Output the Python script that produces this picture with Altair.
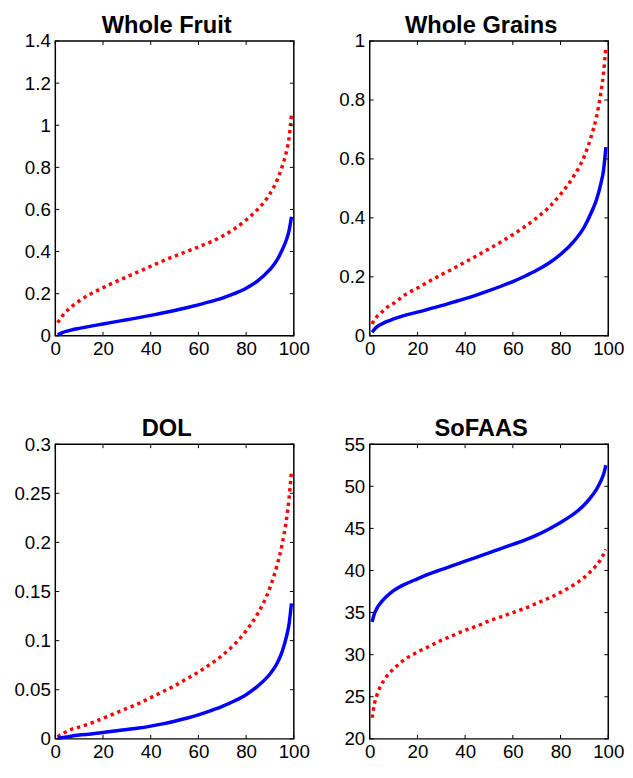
import altair as alt
import pandas as pd

pct = [1, 2, 3, 5, 7, 10, 15, 20, 25, 30, 35, 40, 45, 50, 55, 60, 65, 70, 75, 80, 85, 90, 93, 95, 97, 98, 99]

fruit_blue = [0.004, 0.01, 0.015, 0.022, 0.028, 0.035, 0.046, 0.056, 0.066, 0.076, 0.086, 0.097, 0.108, 0.12, 0.133, 0.147, 0.162, 0.179, 0.2, 0.226, 0.262, 0.315, 0.36, 0.405, 0.46, 0.5, 0.565]
fruit_red = [0.062, 0.08, 0.095, 0.12, 0.14, 0.165, 0.2, 0.228, 0.255, 0.28, 0.305, 0.33, 0.355, 0.378, 0.4, 0.422, 0.445, 0.473, 0.507, 0.55, 0.603, 0.675, 0.74, 0.8, 0.88, 0.94, 1.05]

grains_blue = [0.012, 0.022, 0.03, 0.04, 0.048, 0.057, 0.07, 0.08, 0.091, 0.102, 0.114, 0.126, 0.139, 0.153, 0.168, 0.184, 0.202, 0.222, 0.246, 0.276, 0.315, 0.37, 0.42, 0.46, 0.52, 0.56, 0.64]
grains_red = [0.04, 0.055, 0.065, 0.08, 0.095, 0.11, 0.14, 0.162, 0.185, 0.207, 0.228, 0.25, 0.272, 0.295, 0.318, 0.343, 0.37, 0.4, 0.435, 0.48, 0.535, 0.61, 0.68, 0.74, 0.83, 0.89, 0.98]

dol_blue = [0.0005, 0.001, 0.0015, 0.002, 0.003, 0.004, 0.005, 0.0065, 0.008, 0.0095, 0.011, 0.013, 0.0153, 0.018, 0.021, 0.0245, 0.0285, 0.033, 0.0385, 0.045, 0.054, 0.066, 0.077, 0.088, 0.105, 0.117, 0.138]
dol_red = [0.002, 0.004, 0.005, 0.008, 0.01, 0.012, 0.016, 0.021, 0.026, 0.031, 0.036, 0.042, 0.048, 0.054, 0.061, 0.068, 0.076, 0.085, 0.096, 0.11, 0.128, 0.154, 0.177, 0.197, 0.225, 0.245, 0.272]

sofaas_blue = [33.9, 34.9, 35.5, 36.3, 36.9, 37.6, 38.4, 39.0, 39.6, 40.1, 40.6, 41.1, 41.6, 42.1, 42.6, 43.1, 43.6, 44.2, 44.9, 45.7, 46.6, 47.8, 48.8, 49.6, 50.7, 51.4, 52.5]
sofaas_red = [22.5, 24.2, 25.2, 26.5, 27.4, 28.3, 29.5, 30.3, 31.0, 31.7, 32.3, 32.9, 33.4, 34.0, 34.5, 35.0, 35.5, 36.1, 36.7, 37.4, 38.2, 39.2, 40.0, 40.6, 41.4, 41.9, 42.5]

titles = ["Whole Fruit", "Whole Grains", "DOL", "SoFAAS"]
x_ticks = [0, 20, 40, 60, 80, 100]
fruit_ticks = [0, 0.2, 0.4, 0.6, 0.8, 1, 1.2, 1.4]
grains_ticks = [0, 0.2, 0.4, 0.6, 0.8, 1]
dol_ticks = [0, 0.05, 0.1, 0.15, 0.2, 0.25, 0.3]
sofaas_ticks = [20, 25, 30, 35, 40, 45, 50, 55]

W, H = 242, 299
TL = 4
FONT = "Liberation Sans"


def panel(title, blue, red, yticks):
    domain = [yticks[0], yticks[-1]]
    x = alt.X("p:Q", scale=alt.Scale(domain=[0, 100], nice=False, zero=False),
              axis=alt.Axis(values=x_ticks, title=None, labelPadding=4, labelFlush=False, labelOverlap=False))
    y = alt.Y("v:Q", scale=alt.Scale(domain=domain, nice=False, zero=False),
              axis=alt.Axis(values=yticks, title=None, format="~g", labelPadding=5, labelFlush=False, labelOverlap=False))
    blue_df = pd.DataFrame({"p": pct, "v": blue})
    red_df = pd.DataFrame({"p": pct, "v": red})
    yt = pd.DataFrame({"v": yticks})
    xt = pd.DataFrame({"p": x_ticks})
    blue_line = alt.Chart(blue_df).mark_line(color="#0000ff", strokeWidth=3.5, interpolate="monotone").encode(x=x, y=y)
    red_line = alt.Chart(red_df).mark_line(color="#ff0000", strokeWidth=3.5, strokeDash=[3.4, 3.9], strokeCap="butt", interpolate="monotone").encode(x=x, y=y)
    rule = dict(color="black", strokeWidth=1)
    yl = alt.Chart(yt).mark_rule(**rule).encode(y=y, x=alt.value(0), x2=alt.value(TL))
    yr = alt.Chart(yt).mark_rule(**rule).encode(y=y, x=alt.value(W - TL), x2=alt.value(W))
    xb = alt.Chart(xt).mark_rule(**rule).encode(x=x, y=alt.value(H - TL), y2=alt.value(H))
    xtp = alt.Chart(xt).mark_rule(**rule).encode(x=x, y=alt.value(0), y2=alt.value(TL))
    return alt.layer(red_line, blue_line, yl, yr, xb, xtp).properties(
        width=W, height=H,
        title=alt.TitleParams(title, fontSize=24, fontWeight="bold", font=FONT, color="black", offset=-6, dx=-8),
    )


charts = [
    panel(titles[0], fruit_blue, fruit_red, fruit_ticks),
    panel(titles[1], grains_blue, grains_red, grains_ticks),
    panel(titles[2], dol_blue, dol_red, dol_ticks),
    panel(titles[3], sofaas_blue, sofaas_red, sofaas_ticks),
]

chart = alt.concat(*charts, columns=2, spacing={"column": 27, "row": 58}).properties(
    background="white", padding={"top": 0, "left": 5, "right": 0, "bottom": 0}
)

chart = chart.configure_view(stroke="black", strokeWidth=1.5).configure_axis(
    domain=False, ticks=False, grid=False, labelFont=FONT, labelFontSize=19, labelColor="black"
)

chart.save("out.html", embed_options={"renderer": "svg", "actions": False})
